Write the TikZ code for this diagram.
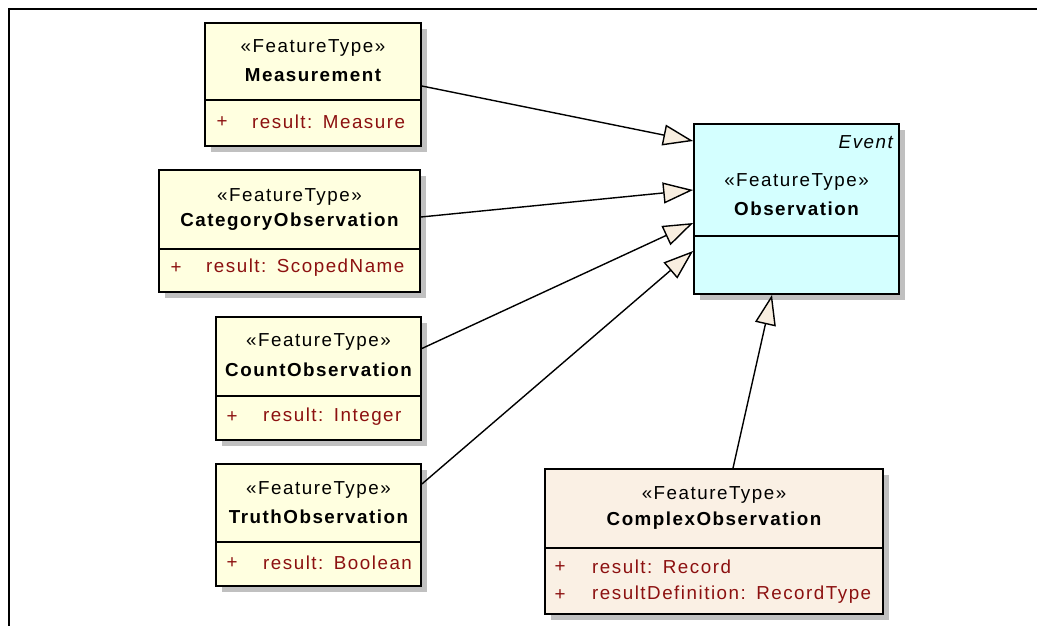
\documentclass[tikz,border=0pt]{standalone}
\usepackage{fontspec}
\setmainfont{Liberation Sans}[LetterSpace=8]
\usetikzlibrary{arrows.meta,shadows}
\definecolor{clsyellow}{RGB}{255,255,224}
\definecolor{clscyan}{RGB}{212,255,255}
\definecolor{clslinen}{RGB}{250,240,228}
\definecolor{tipfill}{RGB}{248,238,224}
\definecolor{attrred}{RGB}{140,16,16}
\definecolor{shadowgray}{RGB}{192,192,192}
\newcommand{\umlfont}{\fontsize{18.8}{22}\selectfont}
\newcommand{\typegap}{\hspace{10.5pt}}
\begin{document}
\begin{tikzpicture}[x=1pt,y=-1pt,
  cls/.style={draw=black, line width=1.8pt, rectangle, inner sep=0pt,
    drop shadow={shadow xshift=6pt, shadow yshift=-6pt, fill=shadowgray, opacity=1}},
  stereo/.style={font=\umlfont, inner sep=0pt, anchor=center},
  cname/.style={font=\umlfont\bfseries, inner sep=0pt, anchor=center},
  attr/.style={font=\umlfont, text=attrred, inner sep=0pt, anchor=west},
  plus/.style={font=\umlfont, text=attrred, inner sep=0pt, anchor=center},
  divider/.style={line width=1.8pt},
  gen/.style={line width=1.4pt, -{Triangle[length=30pt,width=21pt,fill=tipfill,line width=1.4pt]}}
]
\useasboundingbox (0,0) rectangle (1037,626);
\fill[white] (0,0) rectangle (1037,626);

% frame
\draw[line width=2.5pt] (8,9) -- (1037,9);
\draw[line width=2.5pt] (9,8) -- (9,626);

% class boxes
\node[cls, fill=clsyellow, minimum width=216pt, minimum height=123pt] (meas) at (313,84.5) {};
\node[cls, fill=clsyellow, minimum width=261pt, minimum height=122pt] (cat) at (289.5,231) {};
\node[cls, fill=clsyellow, minimum width=205pt, minimum height=123pt] (count) at (318.5,378.5) {};
\node[cls, fill=clsyellow, minimum width=205pt, minimum height=122pt] (truth) at (318.5,525) {};
\node[cls, fill=clscyan, minimum width=205pt, minimum height=170pt] (obs) at (796.5,209) {};
\node[cls, fill=clslinen, minimum width=338pt, minimum height=145pt] (cplx) at (714,541.5) {};

% compartment dividers
\draw[divider] (meas.west |- 0,100) -- (meas.east |- 0,100);
\draw[divider] (cat.west |- 0,249) -- (cat.east |- 0,249);
\draw[divider] (count.west |- 0,396) -- (count.east |- 0,396);
\draw[divider] (truth.west |- 0,542) -- (truth.east |- 0,542);
\draw[divider] (obs.west |- 0,236) -- (obs.east |- 0,236);
\draw[divider] (cplx.west |- 0,548) -- (cplx.east |- 0,548);

% Measurement
\node[stereo] (measst) at (313,48) {«FeatureType»};
\node[cname] (measnm) at (313,75) {Measurement};
\node[plus] (measp) at (222,122) {+};
\node[attr] (measa) at (252,122) {result:\typegap Measure};

% CategoryObservation
\node[stereo] (catst) at (289.5,197) {«FeatureType»};
\node[cname] (catnm) at (289.5,222) {CategoryObservation};
\node[plus] (catp) at (176,268) {+};
\node[attr] (cata) at (206,268) {result:\typegap ScopedName};

% CountObservation
\node[stereo] (countst) at (318.5,342) {«FeatureType»};
\node[cname] (countnm) at (318.5,370) {CountObservation};
\node[plus] (countp) at (232,417) {+};
\node[attr] (counta) at (263,417) {result:\typegap Integer};

% TruthObservation
\node[stereo] (truthst) at (318.5,490) {«FeatureType»};
\node[cname] (truthnm) at (318.5,517) {TruthObservation};
\node[plus] (truthp) at (232,563) {+};
\node[attr] (trutha) at (263,563) {result:\typegap Boolean};

% Observation
\node[stereo, anchor=east, font=\umlfont\itshape] (obsev) at (893,142) {Event};
\node[stereo] (obsst) at (796.5,182) {«FeatureType»};
\node[cname] (obsnm) at (796.5,209) {Observation};

% ComplexObservation
\node[stereo] (cplxst) at (714,495) {«FeatureType»};
\node[cname] (cplxnm) at (714,521) {ComplexObservation};
\node[plus] (cplxp1) at (560,567) {+};
\node[attr] (cplxa1) at (592,567) {result:\typegap Record};
\node[plus] (cplxp2) at (560,595) {+};
\node[attr] (cplxa2) at (592,595) {resultDefinition:\typegap RecordType};

% generalizations
\draw[gen] ([yshift=-1.5pt]meas.east) -- ([yshift=68pt]obs.west);
\draw[gen] ([yshift=14pt]cat.east) -- ([yshift=19pt]obs.west);
\draw[gen] ([yshift=30pt]count.east) -- ([yshift=-14pt]obs.west);
\draw[gen] ([yshift=41pt]truth.east) -- ([yshift=-42pt]obs.west);
\draw[gen] ([xshift=19pt]cplx.north) -- ([xshift=-24.5pt]obs.south);
\end{tikzpicture}
\end{document}
